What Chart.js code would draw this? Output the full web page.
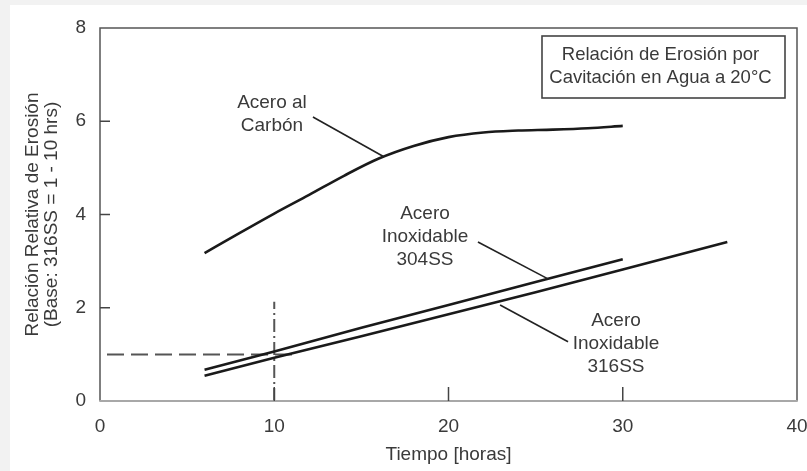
<!DOCTYPE html>
<html><head><meta charset="utf-8">
<script src="https://cdn.jsdelivr.net/npm/chart.js@4"></script>
<style>html,body{margin:0;padding:0;background:#f2f2f2;overflow:hidden}canvas{display:block}</style>
</head><body><canvas id="c" width="807" height="471"></canvas>
<script>
// ---- data ----
const carbonX = [6, 8, 10, 12, 14, 16, 18, 20, 22, 24, 26, 28, 30];
const carbonY = [3.17, 3.6, 4.02, 4.42, 4.83, 5.2, 5.47, 5.66, 5.76, 5.8, 5.82, 5.85, 5.9];
const ss304X = [6, 10, 15, 20, 25, 30];
const ss304Y = [0.67, 1.06, 1.57, 2.06, 2.55, 3.04];
const ss316X = [6, 10, 15, 20, 25, 30, 36];
const ss316Y = [0.54, 0.93, 1.39, 1.86, 2.33, 2.82, 3.41];
const refHX = [0, 11.3];
const refHY = [1, 1];
const refVX = [10, 10];
const refVY = [0, 2.13];
const xTickValues = [0, 10, 20, 30, 40];
const yTickValues = [0, 2, 4, 6, 8];
const xTitle = 'Tiempo [horas]';
const yTitle = ['Relación Relativa de Erosión', '(Base: 316SS = 1 - 10 hrs)'];
const boxLines = ['Relación de Erosión por', 'Cavitación en Agua a 20°C'];
const labelCarbon = ['Acero al', 'Carbón'];
const label304 = ['Acero', 'Inoxidable', '304SS'];
const label316 = ['Acero', 'Inoxidable', '316SS'];

// annotation anchors (data units)
const annotations = [
  { lines: labelCarbon, x: 9.87, y: 6.39, from: [12.22, 6.09], to: [16.24, 5.25] },
  { lines: label304, x: 18.65, y: 4.01, from: [21.69, 3.41], to: [25.71, 2.62] },
  { lines: label316, x: 29.61, y: 1.72, from: [22.96, 2.06], to: [26.86, 1.27] }
];

const pts = (xs, ys) => xs.map((x, i) => ({ x: x, y: ys[i] }));
const FONT = '"Liberation Sans", Arial, sans-serif';
const TXT = '#3a3a3a';

const bgPlugin = {
  id: 'bg',
  beforeDraw(chart) {
    const ctx = chart.ctx;
    ctx.save();
    ctx.fillStyle = '#f2f2f2';
    ctx.fillRect(0, 0, chart.width, chart.height);
    ctx.fillStyle = '#ffffff';
    ctx.fillRect(10, 5, chart.width - 10, chart.height - 5);
    ctx.restore();
  }
};

const framePlugin = {
  id: 'frame',
  afterDraw(chart) {
    const ctx = chart.ctx;
    const a = chart.chartArea;
    const xs = chart.scales.x, ys = chart.scales.y;
    ctx.save();
    // frame
    ctx.lineCap = 'butt';
    ctx.strokeStyle = '#555';
    ctx.lineWidth = 1.5;
    ctx.beginPath();
    ctx.moveTo(a.left, a.bottom);
    ctx.lineTo(a.left, a.top);
    ctx.lineTo(a.right, a.top);
    ctx.lineTo(a.right, a.bottom);
    ctx.stroke();
    ctx.strokeStyle = '#a8a8a8';
    ctx.lineWidth = 2;
    ctx.beginPath();
    ctx.moveTo(a.left - 0.75, a.bottom);
    ctx.lineTo(a.right + 0.75, a.bottom);
    ctx.stroke();
    // inward ticks
    ctx.strokeStyle = '#444';
    ctx.lineWidth = 1.5;
    yTickValues.slice(1, -1).forEach(v => {
      const p = ys.getPixelForValue(v);
      ctx.beginPath(); ctx.moveTo(a.left, p); ctx.lineTo(a.left + 10, p); ctx.stroke();
    });
    xTickValues.slice(1, -1).forEach(v => {
      const p = xs.getPixelForValue(v);
      ctx.beginPath(); ctx.moveTo(p, a.bottom); ctx.lineTo(p, a.bottom - 14); ctx.stroke();
    });
    // curve labels + leader lines
    ctx.font = '19px ' + FONT;
    ctx.fillStyle = TXT;
    ctx.textAlign = 'center';
    ctx.textBaseline = 'middle';
    annotations.forEach(an => {
      const cx = xs.getPixelForValue(an.x);
      const cy = ys.getPixelForValue(an.y);
      an.lines.forEach((t, i) => ctx.fillText(t, cx, cy + i * 22.8));
      ctx.strokeStyle = '#222';
      ctx.lineWidth = 1.6;
      ctx.beginPath();
      ctx.moveTo(xs.getPixelForValue(an.from[0]), ys.getPixelForValue(an.from[1]));
      ctx.lineTo(xs.getPixelForValue(an.to[0]), ys.getPixelForValue(an.to[1]));
      ctx.stroke();
    });
    // title box
    const bw = 243, bh = 62;
    const bx = a.right - 12 - bw, by = a.top + 8;
    ctx.fillStyle = '#fff';
    ctx.fillRect(bx, by, bw, bh);
    ctx.strokeStyle = '#444';
    ctx.lineWidth = 1.6;
    ctx.strokeRect(bx, by, bw, bh);
    ctx.fillStyle = TXT;
    ctx.font = '18.5px ' + FONT;
    ctx.fillText(boxLines[0], bx + bw / 2 - 3, by + 19);
    ctx.fillText(boxLines[1], bx + bw / 2 - 3, by + 42);
    ctx.restore();
  }
};

new Chart(document.getElementById('c'), {
  type: 'scatter',
  data: {
    datasets: [
      { label: 'Acero al Carbón', data: pts(carbonX, carbonY), showLine: true, borderColor: '#1a1a1a', borderWidth: 2.6, pointRadius: 0, cubicInterpolationMode: 'monotone' },
      { label: 'Acero Inoxidable 304SS', data: pts(ss304X, ss304Y), showLine: true, borderColor: '#1a1a1a', borderWidth: 2.6, pointRadius: 0 },
      { label: 'Acero Inoxidable 316SS', data: pts(ss316X, ss316Y), showLine: true, borderColor: '#1a1a1a', borderWidth: 2.6, pointRadius: 0 },
      { label: 'ref1', data: pts(refHX, refHY), showLine: true, borderColor: '#555', borderWidth: 2, pointRadius: 0, borderDash: [17, 7], borderDashOffset: 17 },
      { label: 'ref2', data: pts(refVX, refVY), showLine: true, borderColor: '#555', borderWidth: 2, pointRadius: 0, borderDash: [13, 4, 2, 4] }
    ]
  },
  options: {
    responsive: false,
    animation: false,
    events: [],
    layout: { padding: { top: 28, right: 10, left: 0, bottom: 0 } },
    plugins: { legend: { display: false }, tooltip: { enabled: false } },
    scales: {
      x: {
        type: 'linear', min: 0, max: 40,
        afterBuildTicks: s => { s.ticks = xTickValues.map(v => ({ value: v })); },
        afterFit: s => { s.height = 70; s.paddingLeft = 0; s.paddingRight = 0; },
        grid: { display: false, drawTicks: false },
        border: { display: false },
        ticks: { padding: 14, color: TXT, font: { family: FONT, size: 19 } },
        title: { display: true, text: xTitle, color: TXT, font: { family: FONT, size: 19 }, padding: { top: 0, bottom: 5 } }
      },
      y: {
        type: 'linear', min: 0, max: 8,
        afterBuildTicks: s => { s.ticks = yTickValues.map(v => ({ value: v })); },
        afterFit: s => { s.width = 100; s.paddingTop = 0; s.paddingBottom = 0; },
        grid: { display: false, drawTicks: false },
        border: { display: false },
        ticks: { padding: 14, color: TXT, font: { family: FONT, size: 19 } },
        title: { display: true, text: yTitle, color: TXT, font: { family: FONT, size: 19, lineHeight: 1.02 }, padding: { top: 23, bottom: 0 } }
      }
    }
  },
  plugins: [bgPlugin, framePlugin]
});
</script>
</body></html>
